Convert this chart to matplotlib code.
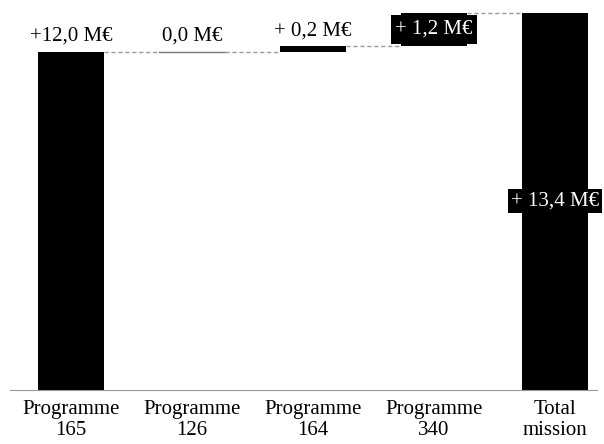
import matplotlib.pyplot as plt

# Contributions par programme (M€)
categories = ['Programme\n165', 'Programme\n126', 'Programme\n164', 'Programme\n340', 'Total\nmission']
deltas = [12.0, 0.0, 0.2, 1.2]
total = 13.4
labels = ['+12,0 M€', '0,0 M€', '+ 0,2 M€', '+ 1,2 M€', '+ 13,4 M€']

plt.rcParams['font.family'] = ['Liberation Serif', 'DejaVu Serif']

fig = plt.figure(figsize=(6.04, 4.44), dpi=100)
ax = fig.add_axes([10/604, 54/444, 587/604, 380/444])

w = 0.55
fs = 15
bottoms = []
run = 0.0
for d in deltas:
    bottoms.append(run)
    run += d

# barres intermédiaires + total
for i, (d, b) in enumerate(zip(deltas, bottoms)):
    if d == 0:
        ax.plot([i - w/2, i + w/2], [b, b], color='#777777', lw=1)
    else:
        ax.bar(i, d, bottom=b, width=w, color='black')
ax.bar(4, total, width=w, color='black')

# traits pointillés de liaison
tops = [b + d for b, d in zip(bottoms, deltas)]
for i, t in enumerate(tops):
    ax.plot([i + w/2, i + 1 - w/2], [t, t], color='#999999', lw=1, ls=(0, (3, 2)))

# étiquettes de valeur
ax.text(0, tops[0] + 0.22, labels[0], ha='center', va='bottom', fontsize=fs)
ax.text(1, tops[1] + 0.22, labels[1], ha='center', va='bottom', fontsize=fs)
ax.text(2, tops[2] + 0.22, labels[2], ha='center', va='bottom', fontsize=fs)
ax.text(3, bottoms[3] + deltas[3]/2, labels[3], ha='center', va='center', fontsize=fs,
        color='white', bbox=dict(facecolor='black', edgecolor='none', pad=3.5))
ax.text(4, total/2, labels[4], ha='center', va='center', fontsize=fs,
        color='white', bbox=dict(facecolor='black', edgecolor='none', pad=2))

ax.set_xlim(-0.504, 4.347)
ax.set_ylim(0, 13.49)
ax.set_xticks(range(len(categories)))
ax.set_xticklabels(categories, fontsize=fs, linespacing=1.15)
ax.tick_params(axis='x', length=0, pad=7)
ax.set_yticks([])
for s in ['top', 'left', 'right']:
    ax.spines[s].set_visible(False)
ax.spines['bottom'].set_color('#999999')

fig.savefig('out.png', dpi=100)
